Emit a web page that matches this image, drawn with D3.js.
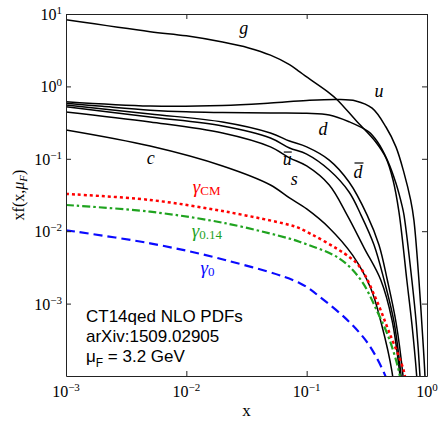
<!DOCTYPE html>
<html>
<head>
<meta charset="utf-8">
<script src="https://cdn.jsdelivr.net/npm/d3@7"></script>
<style>
  body { margin: 0; background: #fff; }
</style>
</head>
<body>
<div id="chart"></div>
<script>
// tick values and exponent labels
const xTickVals = [1e-3, 1e-2, 1e-1, 1];
const xTickExps = ["\u22123", "\u22122", "\u22121", "0"];
const yTickVals = [1e-3, 1e-2, 1e-1, 1, 10];
const yTickExps = ["\u22123", "\u22122", "\u22121", "0", "1"];

// [x, xf(x)]
const gluon = [[0.001, 8.3], [0.005, 5.7], [0.01, 5.0], [0.02, 4.1], [0.033, 3.4], [0.05, 2.7],
  [0.072, 2.0], [0.087, 1.6], [0.1, 1.35], [0.15, 0.84], [0.18, 0.65], [0.256, 0.34],
  [0.375, 0.171], [0.456, 0.103], [0.522, 0.051], [0.585, 0.0184], [0.68, 0.0021],
  [0.75, 0.00051], [0.82, 0.000103], [0.86, 0.00003]];
const upQ = [[0.001, 0.615], [0.005, 0.536], [0.02, 0.545], [0.05, 0.59], [0.1, 0.64],
  [0.18, 0.66], [0.256, 0.63], [0.35, 0.50], [0.456, 0.275], [0.552, 0.146], [0.644, 0.064],
  [0.731, 0.027], [0.778, 0.0143], [0.857, 0.0021], [0.907, 0.00051], [0.961, 0.000103],
  [0.98, 0.00003]];
const downQ = [[0.001, 0.585], [0.002, 0.53], [0.005, 0.47], [0.01, 0.445], [0.02, 0.436],
  [0.05, 0.429], [0.1, 0.425], [0.154, 0.403], [0.225, 0.325], [0.326, 0.237], [0.387, 0.172],
  [0.468, 0.096], [0.552, 0.0459], [0.623, 0.0218], [0.644, 0.0167], [0.749, 0.0021],
  [0.816, 0.00051], [0.873, 0.000103], [0.9, 0.00003]];
const dbarQ = [[0.001, 0.553], [0.005, 0.416], [0.02, 0.322], [0.05, 0.227], [0.072, 0.176],
  [0.1, 0.146], [0.154, 0.096], [0.225, 0.0478], [0.318, 0.0167], [0.399, 0.00645],
  [0.468, 0.00212], [0.552, 0.000557], [0.631, 0.000103], [0.66, 0.00004]];
const ubarQ = [[0.001, 0.524], [0.005, 0.378], [0.02, 0.284], [0.05, 0.194], [0.072, 0.141],
  [0.1, 0.116], [0.154, 0.070], [0.225, 0.0348], [0.283, 0.0167], [0.363, 0.00645],
  [0.44, 0.00212], [0.532, 0.000557], [0.608, 0.000103], [0.64, 0.00004]];
const strangeQ = [[0.001, 0.443], [0.005, 0.322], [0.02, 0.227], [0.05, 0.146], [0.072, 0.103],
  [0.1, 0.0796], [0.154, 0.0435], [0.217, 0.0167], [0.3, 0.0059], [0.413, 0.00212],
  [0.512, 0.000593], [0.596, 0.000103], [0.63, 0.00004]];
const charmQ = [[0.001, 0.25], [0.005, 0.15], [0.02, 0.0796], [0.05, 0.0435], [0.072, 0.0288],
  [0.1, 0.0203], [0.154, 0.0111], [0.24, 0.0047], [0.34, 0.00164], [0.42, 0.00051],
  [0.512, 0.000114], [0.54, 0.00005]];

const photonCM = [[0.001, 0.0327], [0.005, 0.027], [0.021, 0.0187], [0.072, 0.0122], [0.087, 0.011],
  [0.225, 0.00444], [0.282, 0.00307], [0.375, 0.00118], [0.483, 0.000409], [0.644, 0.000115],
  [0.68, 0.00006]];
const photon014 = [[0.001, 0.023], [0.005, 0.0186], [0.021, 0.0129], [0.072, 0.0079], [0.087, 0.00716],
  [0.186, 0.00422], [0.282, 0.00212], [0.387, 0.000773], [0.483, 0.000332], [0.585, 0.000115],
  [0.62, 0.00006]];
const photon0 = [[0.001, 0.0103], [0.005, 0.0068], [0.021, 0.004], [0.087, 0.00193], [0.135, 0.00116],
  [0.225, 0.000562], [0.33, 0.000268], [0.448, 0.000103], [0.47, 0.00008]];

const infoLines = ["CT14qed NLO PDFs", "arXiv:1509.02905"];

const width = 441, height = 421;
const margin = { top: 14, right: 14, bottom: 45, left: 66 };

const svg = d3.select("#chart")
  .append("svg")
  .attr("width", width)
  .attr("height", height)
  .style("font-family", "'Liberation Serif', 'Times New Roman', serif");

const x = d3.scaleLog()
  .domain([1e-3, 1])
  .range([margin.left, width - margin.right]);

const y = d3.scaleLog()
  .domain([1e-4, 10])
  .range([height - margin.bottom, margin.top]);

svg.append("clipPath").attr("id", "plot")
  .append("rect")
  .attr("x", margin.left).attr("y", margin.top)
  .attr("width", width - margin.left - margin.right)
  .attr("height", height - margin.top - margin.bottom);

// curves
const line = d3.line()
  .x(d => x(d[0]))
  .y(d => y(d[1]))
  .curve(d3.curveCatmullRom.alpha(0.5));

const curves = svg.append("g").attr("clip-path", "url(#plot)");

[gluon, upQ, downQ, dbarQ, ubarQ, strangeQ, charmQ].forEach(s => {
  curves.append("path")
    .attr("d", line(s))
    .attr("fill", "none")
    .attr("stroke", "#000")
    .attr("stroke-width", 1.5);
});

const photons = [
  { data: photonCM, color: "#ff0000", dash: "3,3", w: 2.5 },
  { data: photon014, color: "#1fa31f", dash: "8,3,2.5,3", w: 2.2 },
  { data: photon0, color: "#0a0aff", dash: "9,5", w: 2.2 }
];
photons.forEach(p => {
  curves.append("path")
    .attr("d", line(p.data))
    .attr("fill", "none")
    .attr("stroke", p.color)
    .attr("stroke-width", p.w)
    .attr("stroke-dasharray", p.dash);
});

// frame with inward ticks
const axisStyle = g => g.selectAll("path, line").attr("stroke", "#222");
svg.append("g")
  .attr("transform", `translate(0,${y(1e-4)})`)
  .call(d3.axisBottom(x).tickValues(xTickVals).tickSizeInner(-5).tickSizeOuter(0).tickFormat(""))
  .call(axisStyle);
svg.append("g")
  .attr("transform", `translate(0,${y(10)})`)
  .call(d3.axisTop(x).tickValues(xTickVals).tickSizeInner(-5).tickSizeOuter(0).tickFormat(""))
  .call(axisStyle);
svg.append("g")
  .attr("transform", `translate(${x(1e-3)},0)`)
  .call(d3.axisLeft(y).tickValues(yTickVals).tickSizeInner(-5).tickSizeOuter(0).tickFormat(""))
  .call(axisStyle);
svg.append("g")
  .attr("transform", `translate(${x(1)},0)`)
  .call(d3.axisRight(y).tickValues(yTickVals).tickSizeInner(-5).tickSizeOuter(0).tickFormat(""))
  .call(axisStyle);

// tick labels 10^n
const xl = svg.append("g").selectAll("text")
  .data(xTickVals)
  .join("text")
  .attr("x", d => x(d))
  .attr("y", y(1e-4) + 21)
  .attr("text-anchor", "middle")
  .attr("font-size", 16);
xl.append("tspan").text("10");
xl.append("tspan").attr("dy", -6).attr("font-size", 11).text((d, i) => xTickExps[i]);

const yl = svg.append("g").selectAll("text")
  .data(yTickVals)
  .join("text")
  .attr("x", x(1e-3) - 4)
  .attr("y", d => y(d) + 6)
  .attr("text-anchor", "end")
  .attr("font-size", 16);
yl.append("tspan").text("10");
yl.append("tspan").attr("dy", -6).attr("font-size", 11).text((d, i) => yTickExps[i]);

// axis titles
svg.append("text")
  .attr("x", (x(1e-3) + x(1)) / 2)
  .attr("y", 416)
  .attr("text-anchor", "middle")
  .attr("font-size", 17)
  .text("x");

const yt = svg.append("text")
  .attr("transform", `translate(24,${(y(1e-4) + y(10)) / 2}) rotate(-90)`)
  .attr("text-anchor", "middle")
  .attr("font-size", 16);
yt.append("tspan").text("xf(x,");
yt.append("tspan").attr("font-style", "italic").text("\u03bc");
yt.append("tspan").attr("font-style", "italic").attr("font-size", 11).attr("dy", 3).text("F");
yt.append("tspan").attr("dy", -3).text(")");

// curve labels
const curveLabels = [
  { t: "g", x: 0.030, y: 5.3 },
  { t: "u", x: 0.40, y: 0.715 },
  { t: "d", x: 0.137, y: 0.213 },
  { t: "u", x: 0.069, y: 0.082, bar: true },
  { t: "s", x: 0.079, y: 0.0435 },
  { t: "d", x: 0.267, y: 0.0543, bar: true },
  { t: "c", x: 0.00506, y: 0.0848 }
];
curveLabels.forEach(l => {
  const t = svg.append("text")
    .attr("x", x(l.x))
    .attr("y", y(l.y))
    .attr("text-anchor", "middle")
    .attr("font-size", 18)
    .attr("font-style", "italic")
    .text(l.t);
  if (l.bar) {
    const b = t.node().getBBox();
    const top = l.t === "d" ? b.y + 1 : b.y + 3;
    svg.append("line")
      .attr("x1", b.x + 1).attr("x2", b.x + b.width)
      .attr("y1", top).attr("y2", top)
      .attr("stroke", "#000").attr("stroke-width", 1.2);
  }
});

// photon labels
const photonLabels = [
  { sub: "CM", x: 0.0113, y: 0.0337, color: "#ff0000" },
  { sub: "0.14", x: 0.0111, y: 0.0083, color: "#1fa31f" },
  { sub: "0", x: 0.0131, y: 0.0026, color: "#0a0aff" }
];
photonLabels.forEach(l => {
  const t = svg.append("text")
    .attr("x", x(l.x))
    .attr("y", y(l.y))
    .attr("fill", l.color)
    .attr("font-size", 19);
  t.append("tspan").attr("font-style", "italic").text("\u03b3");
  t.append("tspan").attr("font-size", 13).attr("dy", 2).text(l.sub);
});

// info text
const info = svg.append("g")
  .style("font-family", "'Liberation Sans', Arial, sans-serif")
  .attr("font-size", 17);
info.selectAll("text.line")
  .data(infoLines)
  .join("text")
  .attr("class", "line")
  .attr("x", 86)
  .attr("y", (d, i) => 321.5 + i * 20)
  .text(d => d);
const mu = info.append("text").attr("x", 86).attr("y", 361.5);
mu.append("tspan").text("\u03bc");
mu.append("tspan").attr("font-size", 12).attr("dy", 5).text("F");
mu.append("tspan").attr("dy", -5).text(" = 3.2 GeV");
</script>
</body>
</html>
